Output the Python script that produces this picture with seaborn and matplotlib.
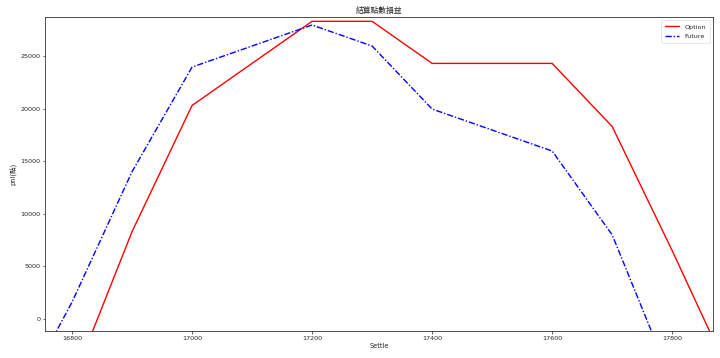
import matplotlib
matplotlib.use("Agg")
import matplotlib.pyplot as plt
import seaborn as sns
import pandas as pd

option_x = [16800, 16900, 17000, 17200, 17300, 17400, 17600, 17700, 17800, 17900]
option_y = [-6100, 8300, 20300, 28300, 28300, 24300, 24300, 18300, 6500, -5800]
future_x = [16700, 16800, 16900, 17000, 17200, 17300, 17400, 17600, 17700, 17800]
future_y = [-9000, 1600, 14000, 23950, 27950, 25950, 19960, 15970, 8000, -6000]

title = "結算點數損益"
xlabel = "Settle"
ylabel = "pnl(點)"

sns.set_style("ticks")
plt.rcParams['font.family'] = ['DejaVu Sans', 'Noto Sans CJK TC']

fig = plt.figure(figsize=(7.2, 3.58), dpi=100)
ax = fig.add_axes([45/720, 27/358, (713-45)/720, (331-17)/358])

opt = pd.DataFrame({"Settle": option_x, "pnl": option_y})
fut = pd.DataFrame({"Settle": future_x, "pnl": future_y})
sns.lineplot(data=opt, x="Settle", y="pnl", color="red", linestyle="-", linewidth=1.0,
             label="Option", ax=ax)
sns.lineplot(data=fut, x="Settle", y="pnl", color="blue", linestyle=(0, (4.5, 1.4, 1, 1.4)),
             linewidth=1.0, label="Future", ax=ax)

ax.set_xlim(16755, 17868)
ax.set_ylim(-1140, 28710)
ax.set_xticks([16800, 17000, 17200, 17400, 17600, 17800])
ax.set_yticks([0, 5000, 10000, 15000, 20000, 25000])
ax.tick_params(labelsize=4.6, length=1.8, width=0.5, pad=1.5)
for s in ax.spines.values():
    s.set_linewidth(0.6)
    s.set_color("#333333")
ax.set_title(title, fontsize=5.6, family=['Noto Sans CJK TC', 'DejaVu Sans'], pad=3)
ax.set_xlabel(xlabel, fontsize=4.8, labelpad=2)
ax.set_ylabel(ylabel, fontsize=4.8, family=['DejaVu Sans', 'Noto Sans CJK TC'], labelpad=3)
leg = ax.legend(loc="upper right", fontsize=4.6, frameon=True, handlelength=2.2,
                borderpad=0.6, labelspacing=0.6)
leg.get_frame().set_linewidth(0.4)

fig.savefig("out.png", dpi=100)
